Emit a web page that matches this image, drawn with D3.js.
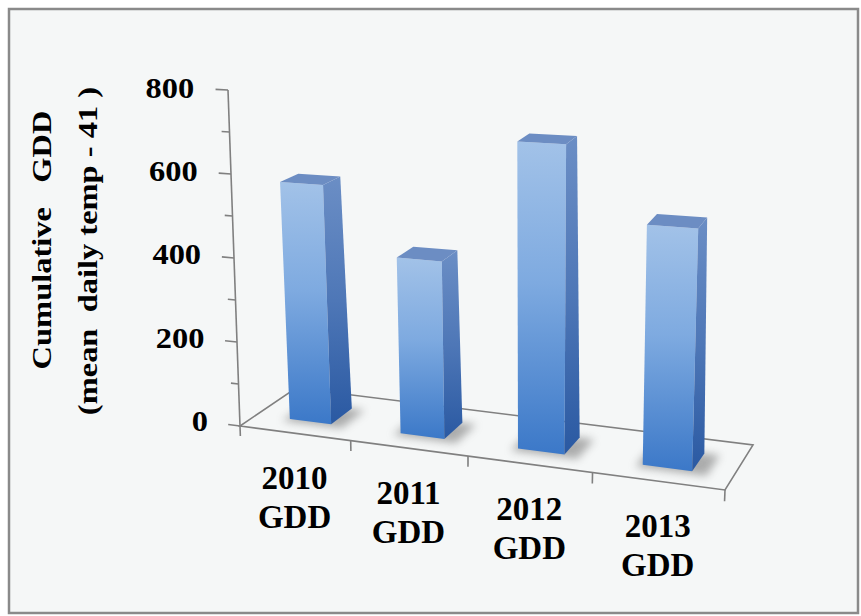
<!DOCTYPE html>
<html>
<head>
<meta charset="utf-8">
<script src="https://cdn.jsdelivr.net/npm/d3@7"></script>
<style>
  body { margin: 0; background: #fff; }
  svg text {
    font-family: 'Liberation Serif', 'Times New Roman', serif;
    font-weight: bold;
    fill: #000;
    white-space: pre;
  }
</style>
</head>
<body>
<div id="container"></div>
<script>
const categories = ['2010', '2011', '2012', '2013'];
const categoryLines = [['2010', 'GDD'], ['2011', 'GDD'], ['2012', 'GDD'], ['2013', 'GDD']];
const gddValues = [572, 413, 702, 533];
const yTicks = [0, 200, 400, 600, 800];
const yMinorTicks = [100, 300, 500, 700];
const yTitle = ['Cumulative   GDD', '(mean  daily temp - 41 )'];

document.addEventListener('DOMContentLoaded', () => {
  const w = 861;
  const h = 616;

  // screen corners of the floor and the screen rise of a full (800) column at each corner
  const floor = { fl: [240, 426], fr: [725, 490], br: [753, 445], bl: [296, 388] };
  const rise = { fl: [-12, -336], fr: [15, -375], br: [3, -350], bl: [-24, -311] };
  const persp = -0.0282;

  const xScale = d3
    .scaleBand()
    .domain(categories)
    .range([0, categories.length])
    .paddingInner(0.62)
    .paddingOuter(0.31);
  const yScale = d3.scaleLinear().domain([0, 800]).range([0, 1]);
  const zScale = d3.scaleLinear().domain([0, 1]).range([0, 1]);

  const n = categories.length;
  const warp = x => (x * (1 + n * persp)) / (n * (1 + persp * x));
  const bil = (c, u, z) =>
    [0, 1].map(k =>
      (1 - u) * (1 - z) * c.fl[k] + u * (1 - z) * c.fr[k] + u * z * c.br[k] + (1 - u) * z * c.bl[k]
    );
  const proj = (x, v, z) => {
    const u = warp(x);
    const f = bil(floor, u, zScale(z));
    const r = bil(rise, u, zScale(z));
    const t = yScale(v);
    return [f[0] + r[0] * t, f[1] + r[1] * t];
  };
  const poly = pts => 'M' + pts.map(p => p.join(',')).join('L') + 'Z';

  const svg = d3
    .select('#container')
    .append('svg')
    .attr('width', w)
    .attr('height', h);

  const defs = svg.append('defs');
  const grad = (id, stops) => {
    const g = defs
      .append('linearGradient')
      .attr('id', id)
      .attr('x1', 0).attr('y1', 0).attr('x2', 0).attr('y2', 1);
    stops.forEach(s => g.append('stop').attr('offset', s[0]).attr('stop-color', s[1]));
  };
  grad('front', [[0, '#a2c2e8'], [0.45, '#7eaae0'], [1, '#3b78c8']]);
  grad('side', [[0, '#6b8ec5'], [0.5, '#4e77b7'], [1, '#2a59a2']]);
  defs
    .append('filter')
    .attr('id', 'blur')
    .attr('x', '-50%').attr('y', '-50%').attr('width', '200%').attr('height', '200%')
    .append('feGaussianBlur')
    .attr('stdDeviation', 4);

  svg
    .append('rect')
    .attr('x', 9)
    .attr('y', 9)
    .attr('width', 849)
    .attr('height', 604)
    .attr('fill', '#f5f7f7')
    .attr('stroke', '#8a8a8a')
    .attr('stroke-width', 2.5);

  // floor outline
  svg
    .append('path')
    .attr('d', poly([proj(0, 0, 0), proj(n, 0, 0), proj(n, 0, 1), proj(0, 0, 1)]))
    .attr('fill', 'none')
    .attr('stroke', '#808080')
    .attr('stroke-width', 1.6);

  // category ticks on the front edge
  svg
    .selectAll('.xtick')
    .data(d3.range(n + 1))
    .enter()
    .append('line')
    .attr('class', 'xtick')
    .attr('x1', d => proj(d, 0, 0)[0])
    .attr('y1', d => proj(d, 0, 0)[1])
    .attr('x2', d => proj(d, -24, 0)[0])
    .attr('y2', d => proj(d, -24, 0)[1])
    .attr('stroke', '#808080')
    .attr('stroke-width', 1.6);

  // value axis
  svg
    .append('line')
    .attr('x1', proj(0, 0, 0)[0])
    .attr('y1', proj(0, 0, 0)[1])
    .attr('x2', proj(0, 800, 0)[0])
    .attr('y2', proj(0, 800, 0)[1])
    .attr('stroke', '#808080')
    .attr('stroke-width', 1.6);

  svg
    .selectAll('.ytick')
    .data(yTicks.map(v => [v, 0.11]).concat(yMinorTicks.map(v => [v, 0.07])))
    .enter()
    .append('line')
    .attr('class', 'ytick')
    .attr('x1', d => proj(0, d[0], 0)[0])
    .attr('y1', d => proj(0, d[0], 0)[1])
    .attr('x2', d => proj(-d[1], d[0], 0)[0])
    .attr('y2', d => proj(-d[1], d[0], 0)[1])
    .attr('stroke', '#808080')
    .attr('stroke-width', 1.6);

  svg
    .selectAll('.ylabel')
    .data(yTicks)
    .enter()
    .append('text')
    .attr('class', 'ylabel')
    .attr('transform', d => `translate(${proj(-0.3, d, 0)}) scale(1.12,1)`)
    .attr('text-anchor', 'end')
    .attr('dominant-baseline', 'central')
    .style('font-size', '29px')
    .text(d => d);

  // bars
  const bars = svg
    .selectAll('.bar')
    .data(gddValues.map((v, i) => ({ cat: categories[i], v })))
    .enter()
    .append('g')
    .attr('class', 'bar');

  const z0 = 0.3;
  const z1 = 0.7;
  const x0 = d => xScale(d.cat);
  const x1 = d => xScale(d.cat) + xScale.bandwidth();

  bars
    .append('path')
    .attr('d', d =>
      poly([
        proj(x0(d) - 0.04, 0, z0 - 0.06),
        proj(x1(d) + 0.12, 0, z0 - 0.06),
        proj(x1(d) + 0.12, 0, z1),
        proj(x0(d) - 0.04, 0, z1),
      ])
    )
    .attr('fill', '#6f6f6f')
    .attr('opacity', 0.55)
    .attr('filter', 'url(#blur)');

  bars
    .append('path')
    .attr('d', d => poly([proj(x0(d), 0, z0), proj(x1(d), 0, z0), proj(x1(d), d.v, z0), proj(x0(d), d.v, z0)]))
    .attr('fill', 'url(#front)');

  bars
    .append('path')
    .attr('d', d => poly([proj(x1(d), 0, z0), proj(x1(d), 0, z1), proj(x1(d), d.v, z1), proj(x1(d), d.v, z0)]))
    .attr('fill', 'url(#side)');

  bars
    .append('path')
    .attr('d', d => poly([proj(x0(d), d.v, z0), proj(x1(d), d.v, z0), proj(x1(d), d.v, z1), proj(x0(d), d.v, z1)]))
    .attr('fill', '#6c8dc3');

  // category labels
  const labels = svg
    .selectAll('.xlabel')
    .data(categoryLines)
    .enter()
    .append('text')
    .attr('class', 'xlabel')
    .attr('text-anchor', 'middle')
    .style('font-size', '33px');
  labels
    .selectAll('tspan')
    .data((d, i) => d.map((t, j) => ({ t, j, i })))
    .enter()
    .append('tspan')
    .attr('x', d => proj(d.i + 0.5, 0, 0)[0])
    .attr('y', d => proj(d.i + 0.5, 0, 0)[1] + 45 + d.j * 39)
    .attr('dominant-baseline', 'central')
    .text(d => d.t);

  // value axis title
  const titlePos = [[51, 240], [97, 251]];
  svg
    .selectAll('.ytitle')
    .data(yTitle)
    .enter()
    .append('text')
    .attr('class', 'ytitle')
    .attr('transform', (d, i) => `translate(${titlePos[i]}) rotate(-90) scale(1.16,1)`)
    .attr('text-anchor', 'middle')
    .style('font-size', '28px')
    .text(d => d);
});
</script>
</body>
</html>
